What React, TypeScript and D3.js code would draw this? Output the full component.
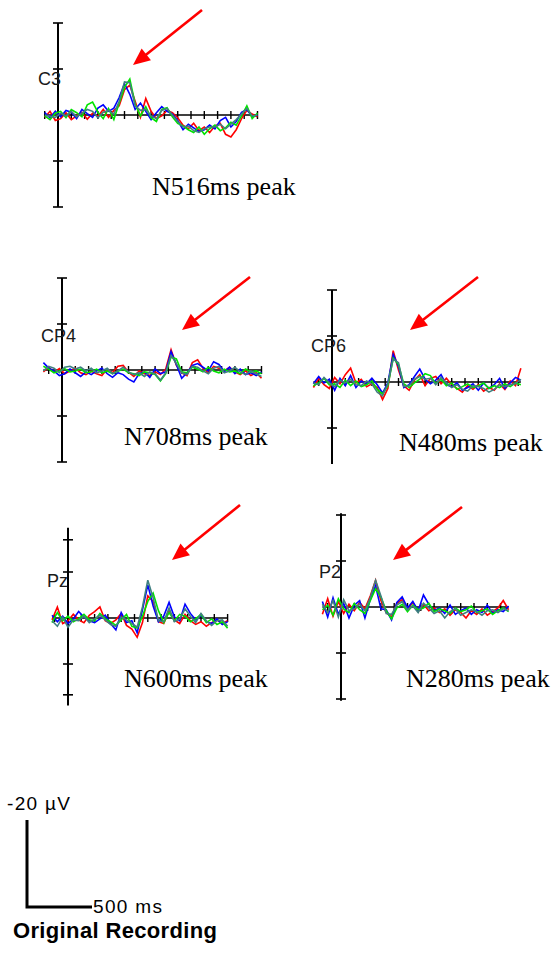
import React, { useEffect, useRef } from 'react';
import * as d3 from 'd3';

// sample spacing of every trace (ms)
const STEP_MS = 40;

// amplitudes in µV, negative plotted upward (EEG convention)
const c3Red = [0.5, -0.8, 1.2, 0.8, -0.5, 1.0, 0.2, -0.6, 0.9, -0.4, 0.3, -1.2, 0.5, -1.0, -2.0, -5.5, -6.5, -3.0, 0.5, -3.6, -0.8, 0.8, 0.2, -1.0, -0.5, 0.6, 2.2, 3.0, 1.8, 3.4, 2.6, 3.8, 2.4, 1.8, 4.2, 4.8, 3.2, 0.8, -1.0, -0.2, 0.4];
const c3Blue = [-0.5, 0.6, -0.8, 0.4, -1.0, -0.6, 0.8, -1.2, -0.3, 0.5, -1.5, -2.2, -0.8, -1.5, -3.8, -6.8, -4.5, -1.2, -2.6, -0.8, 1.0, -0.5, -1.8, -0.8, -0.2, 1.2, 3.2, 2.0, 2.8, 3.6, 3.2, 2.2, 3.0, 1.2, 0.5, 2.6, 1.4, -0.6, -1.2, 0.4, 0.0];
const c3Green = [0.2, 1.0, -0.4, -0.8, 0.6, -1.2, -0.5, 0.4, -2.2, -2.8, -0.6, 0.8, -1.4, 1.0, -2.6, -6.0, -7.8, -2.4, 0.2, -1.8, 0.6, 1.4, -1.2, -1.6, 0.4, 1.8, 2.4, 3.2, 3.8, 2.6, 4.2, 3.0, 2.2, 3.4, 2.8, 1.6, 2.2, 0.2, -2.0, 0.8, -0.4];
const c3Teal = [0.0, 0.3, 0.5, -0.4, 0.2, -0.8, 0.4, -0.4, -1.2, -0.8, 0.6, -0.6, -1.0, -0.2, -3.0, -7.2, -7.0, -2.0, -1.0, -1.2, 0.2, 0.8, -1.0, -1.4, 0.0, 1.4, 2.6, 2.4, 3.4, 3.8, 3.0, 2.6, 2.6, 2.0, 3.0, 2.0, 1.0, -0.2, -1.4, 0.2, 0.0];

const cp4Red = [0.4, -0.6, 0.5, -0.3, 0.8, 0.2, -0.4, 0.6, 1.0, 0.3, 0.8, 1.2, -0.2, 0.6, -0.8, -1.0, 0.5, 1.4, 0.2, 0.8, 1.2, 0.4, 1.0, -0.2, -4.4, -1.0, 0.6, 1.2, -1.6, -2.2, -0.4, 0.6, -0.8, -0.4, 0.2, -0.6, 0.4, 1.0, 0.2, 1.2, 0.6, 1.8];
const cp4Blue = [-1.6, -0.4, 0.2, 1.2, 0.8, -0.2, 0.6, 1.4, 0.4, 1.0, 0.2, -0.4, 0.8, 1.6, 0.6, 1.0, 2.0, 2.6, 0.8, 0.4, 1.6, -0.2, 0.8, 0.4, -4.0, -1.2, 1.8, 0.6, -1.0, -1.4, -0.6, 0.2, -1.8, -1.2, 0.4, -0.6, 0.8, -0.2, 1.0, 0.6, 1.2, 0.4];
const cp4Green = [-0.8, -0.2, 0.6, 0.2, -0.3, 0.4, 0.2, -0.2, 0.6, 0.4, -0.2, 0.6, 0.2, 0.8, 0.3, -0.2, 0.6, 0.8, 1.2, 0.4, 0.6, 1.0, 2.4, 0.8, -2.8, -2.4, 0.4, 0.6, -0.6, -0.2, 0.4, -0.6, 0.2, 0.6, -0.2, 0.4, 0.2, 0.8, -0.2, 0.4, 0.2, 0.8];
const cp4Teal = [0.2, -0.8, -0.4, 0.6, -0.6, -0.8, -0.2, -0.6, 0.2, -0.4, 0.6, 0.2, -0.4, 0.8, 0.2, -0.6, 0.4, 1.0, 0.6, 1.4, 0.4, 0.8, 2.2, 0.6, -3.2, -1.4, 0.6, 1.0, -0.8, -0.6, 0.2, 0.8, -0.4, -0.8, 0.6, 0.2, -0.6, 0.4, 1.0, 0.2, 0.8, 1.4];

const cp6Red = [1.2, -0.8, 0.6, 1.4, -1.0, 0.4, -1.6, -3.0, 0.2, -0.6, 1.0, 0.4, 1.2, 3.8, 1.4, -6.8, -2.6, 0.8, 1.8, -0.4, -1.6, 0.8, -0.8, -1.2, 0.4, -0.8, 0.6, 1.4, 2.2, 0.8, 1.6, 0.6, 2.0, 1.2, 1.8, 0.4, 1.6, -0.2, 0.8, -3.0];
const cp6Blue = [0.4, -1.2, 0.2, -0.6, 1.8, -0.8, 0.8, -1.4, 1.2, -0.2, 0.4, -0.8, 0.6, 2.4, 0.2, -6.0, -3.4, 1.2, 0.6, -1.2, -2.8, -0.6, 0.4, -0.4, -1.6, 0.6, 1.0, 0.2, 1.8, 1.2, 0.4, 1.8, 0.2, 1.4, 0.6, -0.8, 1.4, 0.2, -1.0, -0.4];
const cp6Green = [0.8, 0.2, -0.8, 0.6, 0.4, 1.2, -0.4, 0.8, -0.2, 1.0, 0.6, -0.2, 1.6, 2.6, 0.8, -5.2, -3.8, 0.4, 1.2, 0.2, -0.6, -1.8, -1.4, 0.4, -0.6, 0.8, 0.2, 1.6, 1.0, 0.4, 1.2, 0.8, 0.2, 1.4, 0.8, 1.2, 0.4, 1.0, 0.2, 0.6];
const cp6Teal = [0.2, 0.6, -1.0, 0.2, 1.0, -0.4, 0.2, -0.6, 0.6, 0.8, -0.2, 0.4, 2.2, 3.0, 0.4, -5.0, -4.2, 1.0, 0.8, -0.6, -1.2, -0.6, -0.8, 0.6, -1.0, 0.2, 1.2, 0.6, 1.6, 2.0, 0.8, 1.0, 1.4, 2.2, 1.6, 0.6, 1.0, 0.6, 0.4, -0.6];

const pzRed = [0.4, -2.4, 1.2, 0.6, -0.8, 0.4, 1.0, -0.6, -1.4, -2.4, 0.6, 1.2, 0.4, -1.0, 1.6, 2.4, 4.2, 1.0, -4.8, -3.6, 0.8, 1.2, -1.6, 0.4, 1.2, -0.8, 0.6, 1.4, 0.8, 1.8, 1.0, 0.4, 1.2, 0.6];
const pzBlue = [-0.6, 0.8, -0.4, 1.2, 0.2, -1.4, -0.2, 0.6, 1.0, 0.2, -0.6, 1.2, 2.6, -1.2, 1.0, 0.6, 3.2, -1.8, -7.2, -2.6, 0.8, -0.4, -3.4, -0.2, 0.6, -3.0, -1.0, 0.4, -0.6, 0.8, 1.2, 0.2, 1.4, 0.8];
const pzGreen = [1.0, -1.2, 0.6, -0.4, 0.8, 0.2, -0.8, 0.4, 0.6, -1.0, 0.2, 0.8, 1.6, 0.4, -0.8, 1.8, 2.2, -0.4, -3.6, -5.4, -1.6, 1.0, -1.2, 0.6, -0.8, -0.4, 0.8, 0.2, -0.8, 1.0, 0.2, 1.4, 0.8, 2.2];
const pzTeal = [0.6, 1.8, -0.2, 2.0, 0.4, 0.6, -0.4, 1.0, 0.2, -0.6, 0.4, 1.4, 1.8, -0.2, 0.4, 1.2, 2.0, -2.4, -8.2, -4.4, 0.6, 0.8, -2.2, 0.8, 0.2, -2.0, -0.4, 1.0, -1.0, 0.6, 1.6, 0.6, 0.4, 1.8];

const p2Red = [1.6, -1.8, 2.0, -1.2, 1.4, -0.6, 0.8, -1.0, 0.4, -2.4, -5.8, -1.4, 1.2, 2.2, -0.8, -1.6, 0.4, -1.0, 1.0, -0.6, 0.8, 0.2, 1.2, 0.4, 1.8, 0.6, 1.2, 2.4, 0.8, 1.6, 0.4, 1.8, 1.0, 0.2, -1.4, 0.6];
const p2Blue = [-1.2, 2.2, -2.0, 1.6, -0.8, 2.4, -0.4, -1.4, 2.4, -1.6, -4.6, 0.4, 0.6, 2.8, -1.0, -2.2, 0.2, -1.2, 0.8, -2.6, -0.6, 0.8, 0.2, 1.4, -0.4, 1.6, 0.8, 0.2, 1.6, 0.6, 1.2, -0.4, 1.4, 0.6, 1.0, -0.2];
const p2Green = [0.6, -0.4, 1.8, -1.8, 0.4, 1.2, -0.8, 0.6, 1.4, -1.4, -4.0, -2.2, 0.8, 2.6, 0.2, -0.6, 1.0, -0.4, 0.6, 0.2, -0.8, 1.0, 0.4, 0.8, 1.4, 0.2, 1.0, 0.6, -0.2, 1.2, 0.8, 0.4, 1.6, 0.8, 0.2, 1.0];
const p2Teal = [-0.6, 1.2, -1.4, 2.2, -1.6, 0.8, 0.4, -0.6, 0.8, -2.0, -5.8, -2.4, 1.4, 1.6, -0.4, -1.2, 0.6, -0.2, 1.2, -0.8, 0.2, 1.4, 0.8, 2.4, 1.0, 0.4, 1.8, 1.2, 0.6, 1.0, 1.8, 0.8, 0.6, 1.2, 0.4, 0.8];

const traceColors = ['#ff0000', '#0000ff', '#00e400', '#3f8080'];

interface Panel {
  label: string;
  axisX: number;
  baseY: number;
  startMs: number;
  axisRange: [number, number];
  yTicks: number[];
  traces: number[][];
  labelX: number;
  labelY: number;
  note: string;
  noteX: number;
  noteY: number;
  arrow: [number, number, number, number];
}

const panels: Panel[] = [
  { label: 'C3', axisX: 58, baseY: 115, startMs: -100, axisRange: [-20, 20], yTicks: [-20, -10, 10, 20],
    traces: [c3Red, c3Blue, c3Green, c3Teal], labelX: 38, labelY: 85,
    note: 'N516ms peak', noteX: 152, noteY: 195, arrow: [202, 10, 133, 65] },
  { label: 'CP4', axisX: 62, baseY: 370, startMs: -140, axisRange: [-20, 20], yTicks: [-20, -10, 10, 20],
    traces: [cp4Red, cp4Blue, cp4Green, cp4Teal], labelX: 41, labelY: 342,
    note: 'N708ms peak', noteX: 124, noteY: 445, arrow: [250, 277, 182, 330] },
  { label: 'CP6', axisX: 332, baseY: 382, startMs: -140, axisRange: [-20, 17.8], yTicks: [-20, -10, 10],
    traces: [cp6Red, cp6Blue, cp6Green, cp6Teal], labelX: 311, labelY: 352,
    note: 'N480ms peak', noteX: 399, noteY: 451, arrow: [478, 277, 410, 330] },
  { label: 'Pz', axisX: 68, baseY: 618, startMs: -120, axisRange: [-19.6, 19], yTicks: [-17, -10, 10, 16.7],
    traces: [pzRed, pzBlue, pzGreen, pzTeal], labelX: 47, labelY: 587,
    note: 'N600ms peak', noteX: 124, noteY: 687, arrow: [240, 505, 172, 560] },
  { label: 'P2', axisX: 341, baseY: 607, startMs: -140, axisRange: [-20.4, 20.4], yTicks: [-20, -10, 10, 20],
    traces: [p2Red, p2Blue, p2Green, p2Teal], labelX: 319, labelY: 578,
    note: 'N280ms peak', noteX: 406, noteY: 687, arrow: [462, 507, 393, 560] },
];

const PX_PER_100MS = 13.3;
const PX_PER_10UV = 46;

export default function App() {
  const svgRef = useRef<SVGSVGElement>(null);

  useEffect(() => {
    if (!svgRef.current) return;
    const svg = d3.select(svgRef.current);
    svg.selectAll('*').remove();

    panels.forEach(p => {
      const x = d3.scaleLinear().domain([0, 100]).range([p.axisX, p.axisX + PX_PER_100MS]);
      const y = d3.scaleLinear().domain([0, 10]).range([p.baseY, p.baseY + PX_PER_10UV]);
      const g = svg.append('g');

      const maxLen = d3.max(p.traces, t => t.length) || 0;
      const endMs = p.startMs + (maxLen - 1) * STEP_MS;

      // time baseline with 100 ms ticks
      g.append('line')
        .attr('x1', x(p.startMs)).attr('x2', x(endMs))
        .attr('y1', p.baseY).attr('y2', p.baseY)
        .attr('stroke', '#000').attr('stroke-width', 1.6);
      const xTicks = d3.range(Math.ceil(p.startMs / 100) * 100, endMs + 1, 100).filter(t => t !== 0);
      g.selectAll('.xt').data(xTicks).enter().append('line')
        .attr('x1', d => x(d)).attr('x2', d => x(d))
        .attr('y1', p.baseY - 4).attr('y2', p.baseY + 4)
        .attr('stroke', '#000').attr('stroke-width', 1.4);

      // amplitude axis
      g.append('line')
        .attr('x1', p.axisX).attr('x2', p.axisX)
        .attr('y1', y(p.axisRange[0])).attr('y2', y(p.axisRange[1]))
        .attr('stroke', '#000').attr('stroke-width', 2);
      g.selectAll('.yt').data(p.yTicks).enter().append('line')
        .attr('x1', p.axisX - 5).attr('x2', p.axisX + 5)
        .attr('y1', d => y(d)).attr('y2', d => y(d))
        .attr('stroke', '#000').attr('stroke-width', 1.6);

      // traces
      const line = d3.line<number>()
        .x((_, i) => x(p.startMs + i * STEP_MS))
        .y(d => y(d));
      p.traces.forEach((t, k) => {
        g.append('path')
          .datum(t)
          .attr('fill', 'none')
          .attr('stroke', traceColors[k])
          .attr('stroke-width', 1.6)
          .attr('d', line);
      });

      g.append('text')
        .attr('x', p.labelX).attr('y', p.labelY)
        .attr('font-family', '"Liberation Sans", Arial, sans-serif')
        .attr('font-size', 18)
        .attr('fill', '#1a1a1a')
        .text(p.label);

      g.append('text')
        .attr('x', p.noteX).attr('y', p.noteY)
        .attr('font-family', '"Liberation Serif", "Times New Roman", serif')
        .attr('font-size', 26)
        .attr('fill', '#000')
        .text(p.note);

      // red pointer arrow
      const [ax1, ay1, ax2, ay2] = p.arrow;
      const ang = Math.atan2(ay2 - ay1, ax2 - ax1);
      const headLen = 17, headHalf = 7.5;
      const bx = ax2 - headLen * Math.cos(ang), by = ay2 - headLen * Math.sin(ang);
      g.append('line')
        .attr('x1', ax1).attr('y1', ay1).attr('x2', bx + 2 * Math.cos(ang)).attr('y2', by + 2 * Math.sin(ang))
        .attr('stroke', '#ff0000').attr('stroke-width', 2.6);
      g.append('path')
        .attr('d', `M${ax2},${ay2}L${bx - headHalf * Math.sin(ang)},${by + headHalf * Math.cos(ang)}L${bx + headHalf * Math.sin(ang)},${by - headHalf * Math.cos(ang)}Z`)
        .attr('fill', '#ff0000');
    });

    // calibration bar
    const cal = svg.append('g');
    cal.append('path')
      .attr('d', 'M27,820V907H92')
      .attr('fill', 'none')
      .attr('stroke', '#000')
      .attr('stroke-width', 3);
    cal.append('text')
      .attr('x', 7).attr('y', 810)
      .attr('font-family', '"Liberation Sans", Arial, sans-serif')
      .attr('font-size', 19)
      .attr('textLength', 63)
      .text('-20 µV');
    cal.append('text')
      .attr('x', 93).attr('y', 913)
      .attr('font-family', '"Liberation Sans", Arial, sans-serif')
      .attr('font-size', 19)
      .attr('textLength', 69)
      .text('500 ms');
    cal.append('text')
      .attr('x', 13).attr('y', 938)
      .attr('font-family', '"Liberation Sans", Arial, sans-serif')
      .attr('font-size', 22)
      .attr('font-weight', 'bold')
      .attr('textLength', 204)
      .text('Original Recording');
  }, []);

  return (
    <svg
      ref={svgRef}
      width={557}
      height={955}
      style={{ position: 'absolute', left: 0, top: 0, background: '#fff' }}
    />
  );
}
